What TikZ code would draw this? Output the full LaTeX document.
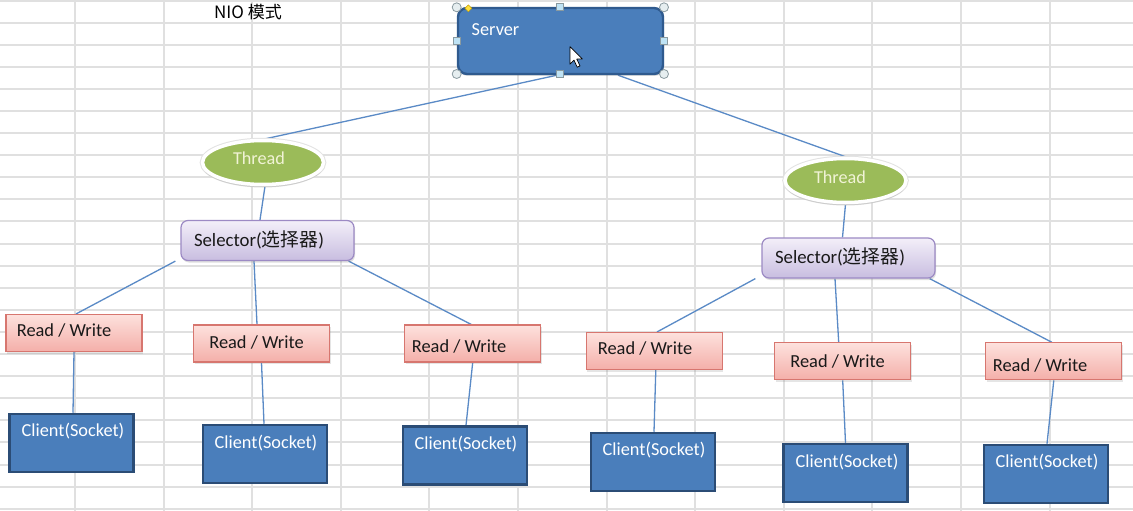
\documentclass[tikz,border=0pt]{standalone}
\usepackage{fontspec}
\setmainfont{Carlito}
\newfontfamily\cjk{Noto Sans CJK SC}
\usetikzlibrary{shapes.geometric,shadows}
\definecolor{srvblue}{HTML}{4A7EBB}
\definecolor{srvedge}{HTML}{2F5A8E}
\definecolor{clblue}{HTML}{4A7EBB}
\definecolor{cledge}{HTML}{2B4C75}
\definecolor{thgreen}{HTML}{9BBB59}
\definecolor{seltop}{HTML}{F3EFF9}
\definecolor{selbot}{HTML}{C8BDE0}
\definecolor{seledge}{HTML}{9C8AC4}
\definecolor{rwtop}{HTML}{FDE1DD}
\definecolor{rwbot}{HTML}{F4AFA9}
\definecolor{rwedge}{HTML}{D7766F}
\definecolor{linkblue}{HTML}{5A8AC6}
\definecolor{gridgray}{HTML}{E0E0E0}
\definecolor{threadtext}{HTML}{F1F3D6}
\definecolor{ringgray}{HTML}{E2E2E2}
\definecolor{handlefill}{HTML}{E6EEF0}
\definecolor{handleedge}{HTML}{8A9AA0}
\definecolor{sqfill}{HTML}{BFE3F5}
\definecolor{diamfill}{HTML}{FFE040}
\definecolor{diamedge}{HTML}{C9A200}
\pgfdeclarelayer{gridlayer}
\pgfdeclarelayer{linklayer}
\pgfsetlayers{gridlayer,linklayer,main}
\begin{document}
\begin{tikzpicture}[x=1pt,y=-1pt,
  gridline/.style={draw=gridgray, line width=2pt},
  serverbox/.style={rectangle, rounded corners=9pt, fill=srvblue, draw=srvedge, line width=2.4pt,
    minimum width=205pt, minimum height=66pt, inner sep=0pt,
    drop shadow={opacity=0.25, shadow xshift=1pt, shadow yshift=-2pt}},
  threadnode/.style={ellipse, fill=thgreen, draw=white, line width=3.5pt,
    minimum width=121pt, minimum height=44pt, inner sep=0pt,
    preaction={draw=ringgray, line width=5.5pt},
    drop shadow={opacity=0.22, shadow xshift=0pt, shadow yshift=-3pt}},
  selbox/.style={rectangle, rounded corners=7pt, top color=seltop, bottom color=selbot,
    draw=seledge, line width=1.2pt, minimum width=173pt, minimum height=40pt, inner sep=0pt,
    drop shadow={opacity=0.25, shadow xshift=1pt, shadow yshift=-2pt}},
  rwbox/.style={rectangle, top color=rwtop, bottom color=rwbot, draw=rwedge, line width=1.1pt,
    minimum width=136pt, minimum height=37pt, inner sep=0pt,
    drop shadow={opacity=0.2, shadow xshift=1pt, shadow yshift=-2pt}},
  clbox/.style={rectangle, fill=clblue, draw=cledge, line width=2.5pt,
    minimum width=124pt, minimum height=58pt, inner sep=0pt},
  conn/.style={draw=linkblue, line width=1.3pt},
  whitetext/.style={text=white, inner sep=0pt, font=\fontsize{18.3}{20}\selectfont},
  thtext/.style={text=threadtext, inner sep=0pt, font=\fontsize{18.2}{20}\selectfont},
  darktext/.style={text=black!90, inner sep=0pt, font=\fontsize{18.8}{20}\selectfont},
  rwtext/.style={text=black!90, inner sep=0pt, font=\fontsize{18.4}{20}\selectfont},
  circhandle/.style={circle, fill=handlefill, draw=handleedge, line width=0.8pt, minimum size=9pt, inner sep=0pt},
  sqhandle/.style={rectangle, fill=sqfill, draw=handleedge, line width=0.8pt, minimum size=7pt, inner sep=0pt},
  diamhandle/.style={diamond, fill=diamfill, draw=diamedge, line width=0.5pt, minimum size=7pt, inner sep=0pt}
]
\useasboundingbox (0,0) rectangle (1133,511);
\begin{pgfonlayer}{gridlayer}
  \fill[white] (0,0) rectangle (1133,511);
  \draw[gridline] (0,1) -- (1133,1);
  \foreach \i in {0,...,11} {
    \pgfmathsetmacro{\gx}{round(75+88.6*\i)}
    \draw[gridline] (\gx,0) -- (\gx,511);
  }
  \foreach \j in {1,...,23} {
    \pgfmathsetmacro{\gy}{round(0.4+22.1*\j)}
    \draw[gridline] (0,\gy) -- (1133,\gy);
  }
\end{pgfonlayer}

% title
\node[inner sep=0pt, font=\cjk\fontsize{17}{20}\selectfont, text=black] (title) at (248,12.3) {NIO 模式};

% server
\node[serverbox] (server) at (560.5,41) {};
\node[whitetext, anchor=west] (t-server) at (471.5,29.3) {Server};

% threads
\node[threadnode] (th1) at (263,162.5) {};
\node[thtext] (t-th1) at (259,158.3) {Thread};
\node[threadnode] (th2) at (845.5,180.5) {};
\node[thtext] (t-th2) at (840,177.3) {Thread};

% selectors
\node[selbox] (sel1) at (267.5,240.5) {};
\node[darktext] (t-sel1) at (259,240) {Selector({\cjk 选择器})};
\node[selbox] (sel2) at (848.5,258) {};
\node[darktext] (t-sel2) at (840,256.7) {Selector({\cjk 选择器})};

% read / write
\node[rwbox] (rw1) at (74,333) {};
\node[rwtext] (t-rw1) at (64,331) {Read / Write};
\node[rwbox] (rw2) at (261.5,343.5) {};
\node[rwtext] (t-rw2) at (256.5,343) {Read / Write};
\node[rwbox] (rw3) at (472.7,343.5) {};
\node[rwtext] (t-rw3) at (459,347) {Read / Write};
\node[rwbox] (rw4) at (654.3,351) {};
\node[rwtext] (t-rw4) at (645,349) {Read / Write};
\node[rwbox] (rw5) at (842.7,361.3) {};
\node[rwtext] (t-rw5) at (837.5,362) {Read / Write};
\node[rwbox] (rw6) at (1053.8,361.3) {};
\node[rwtext] (t-rw6) at (1040,366) {Read / Write};

% clients
\node[clbox] (cl1) at (71.7,443) {};
\node[whitetext] (t-cl1) at (73,431.5) {Client(Socket)};
\node[clbox] (cl2) at (265,454) {};
\node[whitetext] (t-cl2) at (266,443) {Client(Socket)};
\node[clbox] (cl3) at (465,455.5) {};
\node[whitetext] (t-cl3) at (466,444) {Client(Socket)};
\node[clbox] (cl4) at (653,462) {};
\node[whitetext] (t-cl4) at (654,450) {Client(Socket)};
\node[clbox] (cl5) at (845.5,473) {};
\node[whitetext] (t-cl5) at (847,462) {Client(Socket)};
\node[clbox] (cl6) at (1046,474) {};
\node[whitetext] (t-cl6) at (1047,462) {Client(Socket)};

% connectors
\begin{pgfonlayer}{linklayer}
  \draw[conn] ([xshift=-3.5pt]server.south) -- ([xshift=2.5pt]th1.north);
  \draw[conn] ([xshift=57.5pt]server.south) -- (th2.north);
  \draw[conn] ([xshift=2pt]th1.south) -- ([xshift=-7.5pt]sel1.north);
  \draw[conn] (th2.south) -- ([xshift=-6pt]sel2.north);
  \draw[conn] ([xshift=-5pt]sel1.south west) -- ([xshift=2pt]rw1.north);
  \draw[conn] ([xshift=-13.5pt]sel1.south) -- ([xshift=-4.5pt]rw2.north);
  \draw[conn] ([xshift=-6pt]sel1.south east) -- ([xshift=-1.5pt]rw3.north);
  \draw[conn] (rw1.south) -- ([xshift=1.3pt]cl1.north);
  \draw[conn] (rw2.south) -- ([xshift=-1pt]cl2.north);
  \draw[conn] (rw3.south) -- ([xshift=1pt]cl3.north);
  \draw[conn] ([xshift=-6pt]sel2.south west) -- ([xshift=2.7pt]rw4.north);
  \draw[conn] ([xshift=-13.5pt]sel2.south) -- ([xshift=-4pt]rw5.north);
  \draw[conn] ([xshift=-6pt]sel2.south east) -- ([xshift=-2pt]rw6.north);
  \draw[conn] ([xshift=1.5pt]rw4.south) -- ([xshift=1pt]cl4.north);
  \draw[conn] (rw5.south) -- (cl5.north);
  \draw[conn] (rw6.south) -- ([xshift=1pt]cl6.north);
\end{pgfonlayer}

% selection handles on the server box
\node[circhandle] (h1) at (456.7,7.3) {};
\node[circhandle] (h2) at (664,7.3) {};
\node[circhandle] (h3) at (456.7,74) {};
\node[circhandle] (h4) at (664,74) {};
\node[sqhandle] (h5) at (560,7.3) {};
\node[sqhandle] (h6) at (560,74) {};
\node[sqhandle] (h7) at (456.7,40.7) {};
\node[sqhandle] (h8) at (664,40.7) {};
\node[diamhandle] (h9) at (468.3,8.3) {};

% mouse cursor
\draw[fill=white, draw=black, line width=0.7pt, line join=round]
  (570,46.7) -- ++(0,17.5) -- ++(4,-4) -- ++(3.2,7) -- ++(2.8,-1.3) -- ++(-3.2,-6.8) -- ++(5.6,0) -- cycle;
\end{tikzpicture}
\end{document}
